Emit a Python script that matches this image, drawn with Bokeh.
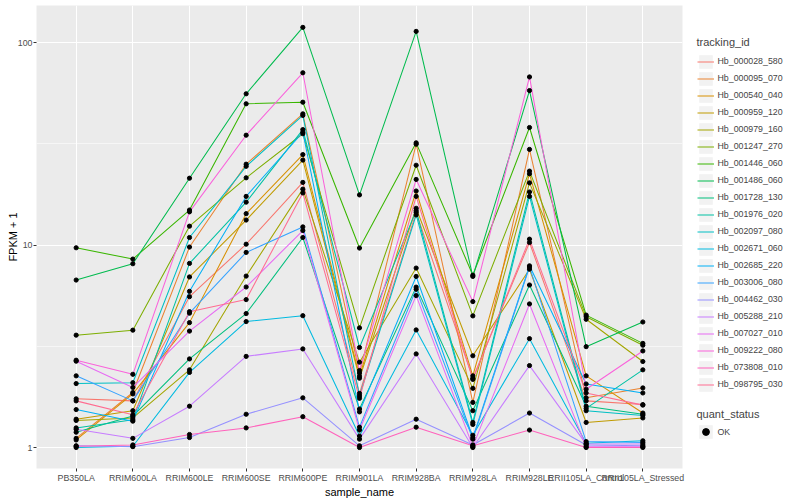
from bokeh.plotting import figure
from bokeh.layouts import row
from bokeh.models import (FactorRange, Range1d, FixedTicker, PrintfTickFormatter,
                          Legend, LegendItem)
from bokeh.embed import file_html
from bokeh.resources import INLINE

samples = ["PB350LA", "RRIM600LA", "RRIM600LE", "RRIM600SE", "RRIM600PE",
           "RRIM901LA", "RRIM928BA", "RRIM928LA", "RRIM928LE",
           "RRII105LA_Control", "RRII105LA_Stressed"]

tracking_ids = ["Hb_000028_580", "Hb_000095_070", "Hb_000540_040", "Hb_000959_120",
                "Hb_000979_160", "Hb_001247_270", "Hb_001446_060", "Hb_001486_060",
                "Hb_001728_130", "Hb_001976_020", "Hb_002097_080", "Hb_002671_060",
                "Hb_002685_220", "Hb_003006_080", "Hb_004462_030", "Hb_005288_210",
                "Hb_007027_010", "Hb_009222_080", "Hb_073808_010", "Hb_098795_030"]

colors = ["#F8766D", "#EA8331", "#D89000", "#C09B00", "#A3A500", "#7CAE00", "#39B600",
          "#00BB4E", "#00BF7D", "#00C1A3", "#00BFC4", "#00BAE0", "#00B0F6", "#35A2FF",
          "#9590FF", "#C77CFF", "#E76BF3", "#FA62DB", "#FF62BC", "#FF6C91"]

# FPKM + 1 values per sample (order of `samples`)
hb_000028_580 = [1.74, 1.70, 5.56, 10.1, 20.4, 1.85, 14.5, 2.20, 10.3, 1.70, 1.63]
hb_000095_070 = [1.11, 1.87, 9.78, 25.1, 44.5, 2.33, 31.5, 1.67, 29.7, 1.76, 1.97]
hb_000540_040 = [1.09, 1.84, 4.14, 14.3, 28.0, 2.25, 18.5, 2.26, 22.5, 2.26, 1.48]
hb_000959_120 = [1.38, 1.52, 6.96, 13.3, 26.3, 2.20, 15.2, 2.84, 7.60, 1.33, 1.40]
hb_000979_160 = [1.36, 1.40, 2.42, 7.03, 18.9, 2.64, 7.70, 1.96, 20.3, 4.30, 2.66]
hb_001247_270 = [3.59, 3.80, 12.4, 21.5, 35.5, 3.90, 24.8, 4.47, 23.2, 4.43, 3.20]
hb_001446_060 = [9.70, 8.53, 14.9, 49.9, 50.8, 9.67, 32.0, 7.10, 38.1, 4.51, 3.27]
hb_001486_060 = [6.72, 8.09, 21.4, 55.9, 119.0, 17.7, 113.7, 7.00, 58.0, 3.15, 4.17]
hb_001728_130 = [1.19, 1.43, 2.74, 4.59, 10.9, 1.55, 6.20, 1.52, 6.35, 1.60, 1.46]
hb_001976_020 = [1.25, 1.37, 8.12, 16.3, 37.2, 3.12, 14.8, 1.33, 18.3, 1.56, 2.42]
hb_002097_080 = [2.07, 2.09, 10.9, 24.5, 43.7, 1.80, 14.1, 1.30, 17.4, 1.52, 1.44]
hb_002671_060 = [1.00, 1.015, 2.35, 4.19, 4.48, 1.14, 3.81, 1.15, 3.45, 1.05, 1.08]
hb_002685_220 = [1.54, 1.35, 5.91, 17.4, 36.1, 1.50, 7.00, 1.12, 7.90, 2.06, 1.86]
hb_003006_080 = [2.26, 1.70, 4.61, 9.20, 12.3, 1.26, 6.05, 1.10, 7.80, 1.07, 1.06]
hb_004462_030 = [1.02, 1.01, 1.12, 1.46, 1.76, 1.02, 1.38, 1.03, 1.48, 1.03, 1.02]
hb_005288_210 = [1.23, 1.11, 1.60, 2.82, 3.07, 1.10, 2.90, 1.00, 2.54, 1.04, 1.04]
hb_007027_010 = [2.67, 1.98, 3.76, 6.21, 11.8, 1.22, 5.63, 1.01, 5.12, 1.01, 1.01]
hb_009222_080 = [2.70, 2.30, 14.6, 34.9, 71.0, 2.40, 21.1, 5.26, 67.7, 1.94, 3.00]
hb_073808_010 = [1.015, 1.03, 1.16, 1.25, 1.42, 1.00, 1.26, 1.02, 1.22, 1.00, 1.00]
hb_098795_030 = [1.70, 1.45, 4.69, 5.38, 18.1, 1.75, 17.4, 2.17, 10.7, 1.86, 1.62]

series_values = [hb_000028_580, hb_000095_070, hb_000540_040, hb_000959_120,
                 hb_000979_160, hb_001247_270, hb_001446_060, hb_001486_060,
                 hb_001728_130, hb_001976_020, hb_002097_080, hb_002671_060,
                 hb_002685_220, hb_003006_080, hb_004462_030, hb_005288_210,
                 hb_007027_010, hb_009222_080, hb_073808_010, hb_098795_030]

quant_status = ["OK"]

FONT = "Liberation Sans"

# ---------------- main plot ----------------
p = figure(width=692, height=500,
           x_range=FactorRange(factors=samples, range_padding=0.2,
                               range_padding_units="absolute", factor_padding=0),
           y_axis_type="log", y_range=Range1d(10 ** -0.1036, 10 ** 2.1836),
           output_backend="svg", toolbar_location=None,
           min_border_left=36, min_border_right=10, min_border_top=5,
           min_border_bottom=31)

p.background_fill_color = "#EBEBEB"
p.border_fill_color = "white"
p.outline_line_color = None

p.yaxis.ticker = FixedTicker(ticks=[1, 10, 100], minor_ticks=[10 ** 0.5, 10 ** 1.5])
p.yaxis.formatter = PrintfTickFormatter(format="%d")

for g in (p.xgrid, p.ygrid):
    g.grid_line_color = "white"
    g.grid_line_width = 1.1
p.ygrid.minor_grid_line_color = "white"
p.ygrid.minor_grid_line_width = 0.55

for ax in (p.xaxis, p.yaxis):
    ax.axis_line_color = None
    ax.major_tick_line_color = "#333333"
    ax.major_tick_out = 3
    ax.major_tick_in = 0
    ax.minor_tick_line_color = None
    ax.major_label_text_color = "#4D4D4D"
    ax.major_label_text_font_size = "8.8px"
    ax.major_label_text_font = FONT
    ax.major_label_text_line_height = 1.0
    ax.axis_label_text_font_size = "11px"
    ax.axis_label_text_font_style = "normal"
    ax.axis_label_text_font = FONT
    ax.axis_label_text_color = "black"
    ax.axis_label_text_line_height = 1.0
    ax.major_label_standoff = 1
    ax.axis_label_standoff = 0
p.yaxis.major_label_standoff = 0
p.yaxis.axis_label_standoff = -4

p.yaxis.axis_label = "FPKM + 1"
p.xaxis.axis_label = "sample_name"

for vals, col in zip(series_values, colors):
    p.line(x=samples, y=vals, line_color=col, line_width=1.05)

px, py = [], []
for vals in series_values:
    px.extend(samples)
    py.extend(vals)
p.scatter(x=px, y=py, size=4.2, marker="circle", color="black")

# ---------------- legend panel ----------------
lf = figure(width=108, height=500, x_range=Range1d(0, 1), y_range=Range1d(0, 1),
            x_axis_location=None, y_axis_location=None,
            output_backend="svg", toolbar_location=None,
            min_border_left=0, min_border_right=0, min_border_top=0, min_border_bottom=0)
lf.outline_line_color = None
lf.background_fill_color = "white"
lf.border_fill_color = "white"
lf.xgrid.grid_line_color = None
lf.ygrid.grid_line_color = None

# legend-only renderers: their single point lies outside the (0, 1) ranges
key_r = lf.quad(left=[5], right=[6], top=[6], bottom=[5], fill_color="#F2F2F2",
                line_color=None)
leg_lines = [lf.line(x=[5, 6], y=[5, 6], line_color=col, line_width=1) for col in colors]
leg_pts = lf.scatter(x=[5], y=[5], size=4.2, marker="circle", color="black")


def style_legend(lg, standoff):
    lg.title_text_font_size = "11px"
    lg.title_text_font_style = "normal"
    lg.title_text_font = FONT
    lg.title_standoff = standoff
    lg.label_text_font_size = "8.8px"
    lg.label_text_font = FONT
    lg.label_standoff = 4
    lg.glyph_width = 17
    lg.glyph_height = 17
    lg.label_height = 17
    lg.spacing = 0
    lg.padding = 0
    lg.margin = 0
    lg.border_line_color = None
    lg.background_fill_alpha = 0


legend1 = Legend(items=[LegendItem(label=tid, renderers=[key_r, r])
                        for tid, r in zip(tracking_ids, leg_lines)],
                 location=(4.5, 75.5), title="tracking_id")
style_legend(legend1, 5)
lf.add_layout(legend1)

legend2 = Legend(items=[LegendItem(label=quant_status[0], renderers=[key_r, leg_pts])],
                 location=(4.5, 28), title="quant_status")
style_legend(legend2, 3)
lf.add_layout(legend2)

page = row(p, lf, spacing=0)

open("out.html", "w").write(file_html(page, INLINE))
